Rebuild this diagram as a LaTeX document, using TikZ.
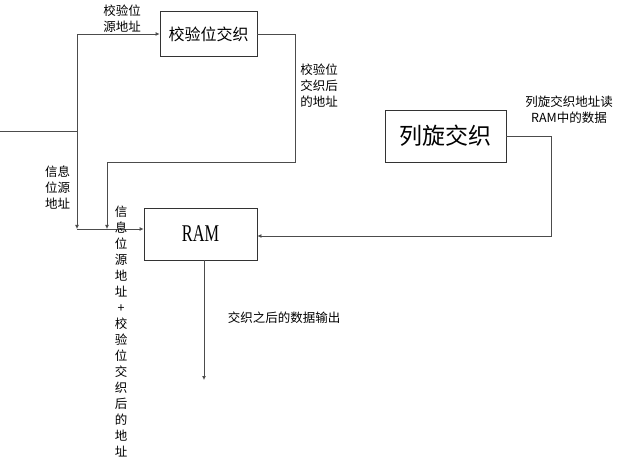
\documentclass[tikz,border=0pt]{standalone}
\usepackage{fontspec}
\setmainfont{Liberation Serif}
\newfontfamily\cjk{Noto Sans CJK SC}
\usetikzlibrary{positioning}
\usetikzlibrary{calc}
\usetikzlibrary{arrows.meta}
\tikzset{every picture/.style={line width=0.8pt},
box/.style={draw=black!80,fill=white,rectangle,inner sep=0pt},
lbl/.style={font=\cjk\fontsize{12.5}{16}\selectfont,inner sep=0pt},
line/.style={draw=black!70},
arr/.style={line,-{Latex[length=4pt,width=4pt]}}}

\begin{document}
\begin{tikzpicture}[x=1pt,y=-1pt]
\useasboundingbox (0,0) rectangle (624,465);
% boxes
\node[box,minimum width=97pt,minimum height=45pt] (jyjz) at (208.5,34) {\cjk\fontsize{16}{18}\selectfont 校验位交织};
\node[box,minimum width=113pt,minimum height=52pt] (ram) at (200.5,234) {\fontsize{24}{26}\selectfont\scalebox{0.68}[1]{RAM}};
\node[box,minimum width=121pt,minimum height=52pt] (lxjz) at (445.5,136) {\cjk\fontsize{23}{26}\selectfont 列旋交织};
% corner points
\coordinate (in) at (0,131);
\coordinate (split) at (77,131);
\coordinate (top) at (77,34);
\coordinate (bot) at (77,229);
\coordinate (back) at (107,229);
\coordinate (turn) at (295,162);
\coordinate (right) at (551,236);
\coordinate (out) at (204,380);
% connectors
\draw[line] (in) -- (split);
\draw[arr] (split) -- (top) -- (jyjz.west);
\draw[arr] (split) -- (bot);
\draw[arr] (jyjz.east) -| (turn) -| (back);
\draw[arr] (bot) -- (ram.west |- bot);
\draw[arr] (lxjz.east) -| (right) -- (ram.east |- right);
\draw[arr] (ram.south -| out) -- (out);
% labels
\node[lbl,align=center] (l1) at (122,19) {校验位\\源地址};
\node[lbl,align=left] (l2) at (319,86) {校验位\\交织后\\的地址};
\node[lbl,align=center] (l3) at (57.5,188) {信息\\位源\\地址};
\node[lbl,align=center] (l4) at (121,332) {信\\息\\位\\源\\地\\址\\+\\校\\验\\位\\交\\织\\后\\的\\地\\址};
\node[lbl] (l5) at (284,318) {交织之后的数据输出};
\node[lbl,align=center] (l6) at (569,110) {列旋交织地址读\\RAM中的数据};
\end{tikzpicture}
\end{document}
